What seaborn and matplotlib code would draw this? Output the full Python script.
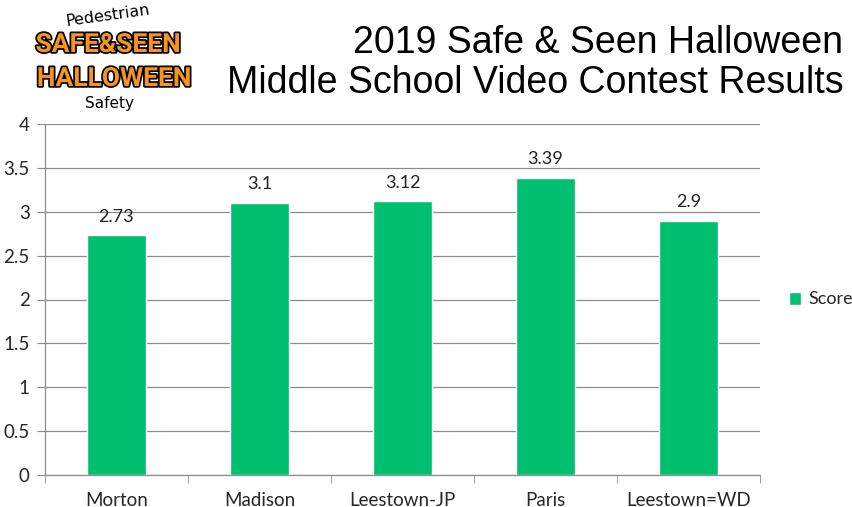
import matplotlib
matplotlib.use("Agg")
import matplotlib.pyplot as plt
import matplotlib.patheffects as pe
import pandas as pd
import seaborn as sns

# data
schools = ["Morton", "Madison", "Leestown-JP", "Paris", "Leestown=WD"]
scores = [2.73, 3.1, 3.12, 3.39, 2.9]
series_name = "Score"

df = pd.DataFrame({"School": schools, "Score": scores, "Series": series_name})

sns.set_style("white")
plt.rcParams["font.family"] = ["Lato", "DejaVu Sans"]

fig = plt.figure(figsize=(8.52, 5.07), dpi=100)
ax = fig.add_axes([45 / 852, 1 - 475 / 507, 715 / 852, 351 / 507])

green = "#00BF6F"
sns.barplot(data=df, x="School", y="Score", hue="Series", palette=[green],
            width=0.41, ax=ax, saturation=1)

for i, v in enumerate(scores):
    ax.text(i, v + 0.12, f"{v:g}", ha="center", va="bottom", fontsize=13, color="#222222")

ax.set_ylim(0, 4)
ax.set_yticks([0, 0.5, 1, 1.5, 2, 2.5, 3, 3.5, 4])
ax.set_yticklabels(["0", "0.5", "1", "1.5", "2", "2.5", "3", "3.5", "4"])
ax.set_xlim(-0.5, 4.5)
ax.set_xlabel("")
ax.set_ylabel("")
ax.grid(axis="y", color="#8c8c8c", linewidth=0.9)
ax.set_axisbelow(True)
for s in ["top", "right"]:
    ax.spines[s].set_visible(False)
for s in ["left", "bottom"]:
    ax.spines[s].set_color("#8c8c8c")
    ax.spines[s].set_linewidth(0.9)

ax.tick_params(axis="y", which="major", left=True, length=6, color="#8c8c8c",
               labelsize=13.5, pad=5)
ax.tick_params(axis="x", which="major", length=0, labelsize=13.5, pad=12)
ax.set_xticks([i - 0.5 for i in range(len(schools) + 1)], minor=True)
ax.tick_params(axis="x", which="minor", bottom=True, length=6, color="#8c8c8c")

leg = ax.legend(loc="center left", bbox_to_anchor=(1.04, 0.5), frameon=False,
                fontsize=13, handlelength=0.7, handleheight=0.7, handletextpad=0.4,
                borderpad=0, borderaxespad=0)

fig.text(0.99, 0.876, "2019 Safe & Seen Halloween\nMiddle School Video Contest Results",
         ha="right", va="center", fontsize=27, family=["Liberation Sans", "DejaVu Sans"],
         linespacing=1.15, color="black")

# logo
orange = "#F7941D"
fx = pe.withStroke(linewidth=2.5, foreground="black")
logo_font = ["Liberation Sans Narrow", "Roboto", "DejaVu Sans"]
fig.text(108 / 852, 1 - 16 / 507, "Pedestrian", ha="center", va="center", fontsize=11.5,
         rotation=8, family=["DejaVu Sans"], color="black")
fig.text(108 / 852, 1 - 45 / 507, "SAFE&SEEN", ha="center", va="center", fontsize=19,
         weight="bold", color=orange, family=logo_font, path_effects=[fx])
fig.text(114 / 852, 1 - 79 / 507, "HALLOWEEN", ha="center", va="center", fontsize=19,
         weight="bold", color=orange, family=logo_font, path_effects=[fx])
fig.text(110 / 852, 1 - 104 / 507, "Safety", ha="center", va="center", fontsize=11,
         family=["DejaVu Sans"], color="black")

fig.savefig("out.png", dpi=100)
